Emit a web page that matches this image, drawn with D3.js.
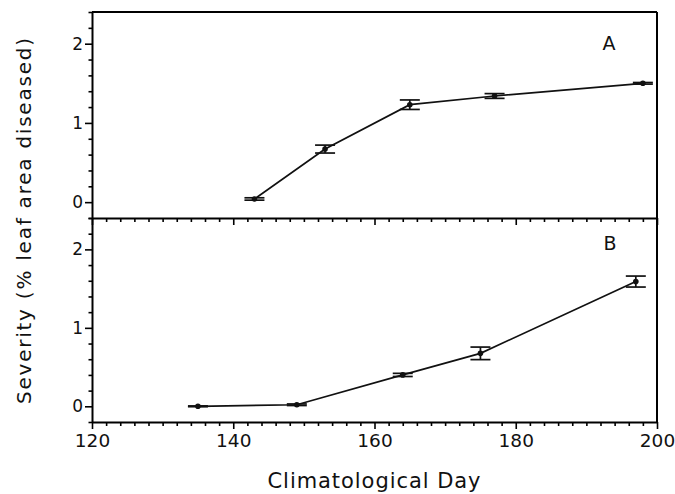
<!DOCTYPE html>
<html>
<head>
<meta charset="utf-8">
<script src="https://cdn.jsdelivr.net/npm/d3@7"></script>
<style>
  html, body { margin: 0; padding: 0; background: #fff; }
  svg text { font-family: "DejaVu Sans", sans-serif; fill: #111; }
</style>
</head>
<body>
<svg id="chart" width="675" height="494"></svg>
<script>
// ---------------------------------------------------------
// Severity (% leaf area diseased) vs Climatological Day
// two stacked panels A and B, shared x axis
// ---------------------------------------------------------

// panel A
const daysA = [143, 153, 165, 177, 198];
const sevA  = [0.04, 0.67, 1.23, 1.34, 1.50];
const errA  = [0.015, 0.05, 0.06, 0.03, 0.01];

// panel B
const daysB = [135, 149, 164, 175, 197];
const sevB  = [0.00, 0.02, 0.40, 0.675, 1.59];
const errB  = [0.005, 0.01, 0.02, 0.08, 0.07];

const xTickLabels = [120, 140, 160, 180, 200];
const yTickLabels = [0, 1, 2];

const svg = d3.select("#chart");

const left = 92, right = 657;
const topA = 12, midY = 218, botB = 422;

const x = d3.scaleLinear().domain([120, 200]).range([left, right]);
const yA = d3.scaleLinear().domain([-0.2, 2.4]).range([midY, topA]);
const yB = d3.scaleLinear().domain([-0.2, 2.4]).range([botB, midY]);

const xMinor = d3.range(120, 201, 2);
const yMinor = d3.range(-0.2, 2.41, 0.2).map(v => +v.toFixed(1));

// -------------------------------------------------------
// AXES
// -------------------------------------------------------
function xAxis(g, showLabels) {
  g.call(d3.axisBottom(x).tickValues(xMinor).tickSizeOuter(0)
      .tickFormat(d => showLabels && xTickLabels.includes(d) ? d : ""));
  g.selectAll(".tick line")
    .attr("y2", d => xTickLabels.includes(d) ? 7 : 4)
    .attr("stroke-width", 1.6);
  g.selectAll(".tick text").attr("y", 12).style("font-size", "18.5px");
  g.select(".domain").attr("stroke-width", 2);
}

function yAxis(g, scale) {
  g.call(d3.axisLeft(scale).tickValues(yMinor).tickSizeOuter(0)
      .tickFormat(d => yTickLabels.includes(d) ? d : ""));
  g.selectAll(".tick line")
    .attr("x2", d => yTickLabels.includes(d) ? -7 : -3.5)
    .attr("stroke-width", 1.6);
  g.selectAll(".tick text").attr("x", -9).style("font-size", "17px");
  g.select(".domain").attr("stroke-width", 2);
}

svg.append("g").attr("transform", `translate(0,${midY})`).call(xAxis, false);
svg.append("g").attr("transform", `translate(0,${botB})`).call(xAxis, true);
svg.append("g").attr("transform", `translate(${left},0)`).call(yAxis, yA);
svg.append("g").attr("transform", `translate(${left},0)`).call(yAxis, yB);

// top and right frame
svg.append("line")
  .attr("x1", left).attr("x2", right).attr("y1", topA).attr("y2", topA)
  .attr("stroke", "#000").attr("stroke-width", 2);
svg.append("line")
  .attr("x1", right).attr("x2", right).attr("y1", topA).attr("y2", botB)
  .attr("stroke", "#000").attr("stroke-width", 2);

// -------------------------------------------------------
// SERIES
// -------------------------------------------------------
function drawSeries(days, sev, err, y) {
  const pts = days.map((d, i) => ({ day: d, v: sev[i], e: err[i] }));
  const g = svg.append("g");

  g.append("path")
    .datum(pts)
    .attr("fill", "none")
    .attr("stroke", "#111")
    .attr("stroke-width", 1.7)
    .attr("d", d3.line().x(d => x(d.day)).y(d => y(d.v)));

  const bars = g.selectAll("g.err").data(pts).enter().append("g")
    .attr("class", "err").attr("stroke", "#111").attr("stroke-width", 1.7);
  bars.append("line")
    .attr("x1", d => x(d.day)).attr("x2", d => x(d.day))
    .attr("y1", d => y(d.v - d.e)).attr("y2", d => y(d.v + d.e));
  bars.append("line")
    .attr("x1", d => x(d.day) - 10).attr("x2", d => x(d.day) + 10)
    .attr("y1", d => y(d.v + d.e)).attr("y2", d => y(d.v + d.e));
  bars.append("line")
    .attr("x1", d => x(d.day) - 10).attr("x2", d => x(d.day) + 10)
    .attr("y1", d => y(d.v - d.e)).attr("y2", d => y(d.v - d.e));

  g.selectAll("circle").data(pts).enter().append("circle")
    .attr("cx", d => x(d.day)).attr("cy", d => y(d.v))
    .attr("r", 2.8).attr("fill", "#111");
}

drawSeries(daysA, sevA, errA, yA);
drawSeries(daysB, sevB, errB, yB);

// -------------------------------------------------------
// LABELS
// -------------------------------------------------------
svg.append("text").attr("x", 609).attr("y", 50)
  .attr("text-anchor", "middle").style("font-size", "19px").text("A");
svg.append("text").attr("x", 610).attr("y", 250)
  .attr("text-anchor", "middle").style("font-size", "19px").text("B");

svg.append("text")
  .attr("x", 374).attr("y", 488)
  .attr("text-anchor", "middle")
  .attr("textLength", 213).attr("lengthAdjust", "spacing")
  .style("font-size", "21px")
  .text("Climatological Day");

svg.append("text")
  .attr("transform", "translate(31,221) rotate(-90)")
  .attr("text-anchor", "middle")
  .attr("textLength", 366).attr("lengthAdjust", "spacing")
  .style("font-size", "20px")
  .text("Severity (% leaf area diseased)");
</script>
</body>
</html>
